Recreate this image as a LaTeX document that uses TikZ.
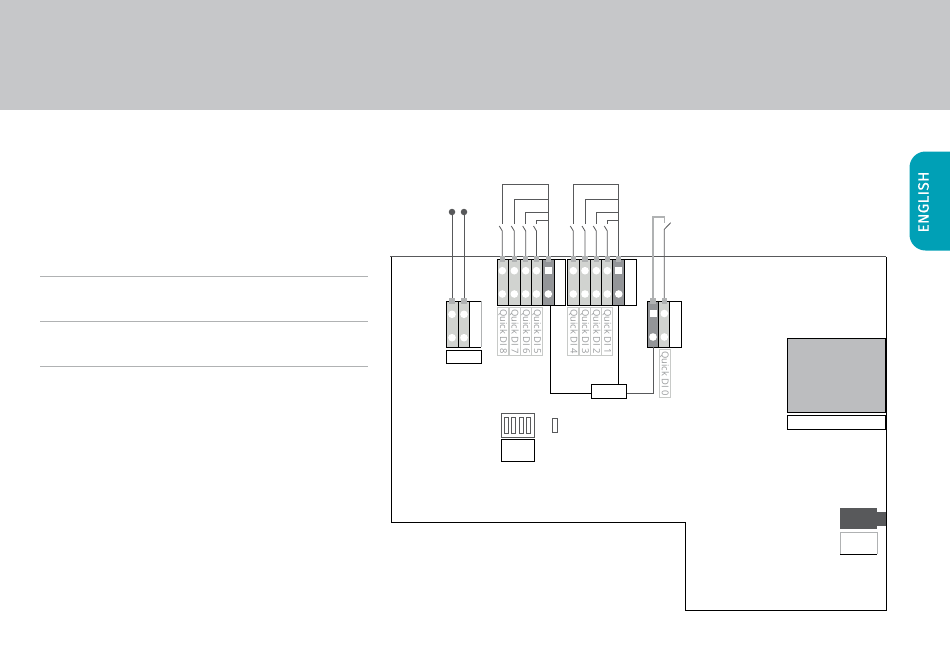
\documentclass[tikz,border=0pt]{standalone}
\usepackage{fontspec}
\setmainfont{Open Sans}
\newfontfamily\tabfont[FakeBold=0.6,LetterSpace=3]{Fira Sans}
\definecolor{banner}{HTML}{C6C7C9}
\definecolor{tabc}{HTML}{00A0B6}
\definecolor{wirec}{HTML}{58595B}
\definecolor{modl}{HTML}{D1D3D0}
\definecolor{modd}{HTML}{939598}
\definecolor{capc}{HTML}{B0B2B3}
\definecolor{dispc}{HTML}{BCBDBF}
\definecolor{lblb}{HTML}{C8CAC8}
\definecolor{lblt}{HTML}{9A9C9E}
\tikzset{
  wire/.style={draw=wirec,line width=0.8pt},
  blk/.style={draw=black,line width=0.9pt},
  modlight/.style={draw=black,line width=0.9pt,fill=modl},
  moddark/.style={draw=black,line width=0.9pt,fill=modd},
  capn/.style={fill=capc,inner sep=0pt,minimum width=5.5pt,minimum height=6pt,shape=rectangle},
  dotw/.style={circle,fill=white,inner sep=0pt,minimum size=7.6pt},
  squarew/.style={rectangle,fill=white,inner sep=0pt,minimum size=7pt},
  lbl/.style={draw=lblb,line width=0.7pt,fill=white,inner sep=0pt,minimum width=11pt,minimum height=48pt},
  lbltxt/.style={font=\fontsize{9.4}{10}\selectfont,text=lblt,rotate=-90,inner sep=0pt},
  rule/.style={draw=capc,line width=0.8pt}
}
\begin{document}
\begin{tikzpicture}[x=1pt,y=-1pt]
\useasboundingbox (0,0) rectangle (950,670);
\fill[white] (0,0) rectangle (950,670);
\fill[banner] (0,0) rectangle (950,110);
% tab
\fill[tabc,rounded corners=16pt] (970,151.5) -- (909.5,151.5) -- (909.5,250.5) -- (970,250.5) -- cycle;
\node[rotate=90,text=white,font=\tabfont\fontsize{15}{16}\selectfont,inner sep=0pt] (tab) at (923.5,202) {ENGLISH};
% rules
\draw[rule] (40,276.7) -- (368,276.7);
\draw[rule] (40,321) -- (368,321);
\draw[rule] (40,366) -- (368,366);
% outline
\draw[blk] (391,256.5) -- (391,522) -- (685,522) -- (685,610) -- (886,610) -- (886,256.5);
\draw[draw=wirec,line width=1pt] (390,256.5) -- (886,256.5);
% left pair
\node[circle,fill=wirec,inner sep=0pt,minimum size=6.5pt] (da) at (452,212) {};
\node[circle,fill=wirec,inner sep=0pt,minimum size=6.5pt] (db) at (464,212) {};
\draw[modlight] (446,301) rectangle (458.3,347);
\draw[modlight] (458.3,301) rectangle (469.5,347);
\draw[blk] (469.5,301) -- (481,301);
\draw[blk] (469.5,347) -- (481,347);
\draw[draw=capc,line width=0.9pt] (481,301) -- (481,347);
\node[capn] (ca) at (452,301) {};
\node[capn] (cb) at (464,301) {};
\draw[wire] (da) -- (ca);
\draw[wire] (db) -- (cb);
\foreach \x in {452,464} \foreach \y in {314.3,337.7} \node[dotw] at (\x,\y) {};
\draw[blk] (446,350) rectangle (481.5,363);
% group 1
\foreach \a/\b in {497.3/508.7,508.7/520.3,520.3/531.3,531.3/542.7} \draw[modlight] (\a,259.5) rectangle (\b,305.3);
\draw[moddark] (542.7,259.5) rectangle (554,305.3);
\draw[blk] (554,259.5) rectangle (565.7,305.3);
% group 2
\foreach \a/\b in {567.3/579.3,579.3/590.7,590.7/601.7,601.7/612.7} \draw[modlight] (\a,259.5) rectangle (\b,305.3);
\draw[moddark] (612.7,259.5) rectangle (624.3,305.3);
\draw[blk] (624.3,259.5) rectangle (636.3,305.3);
% wires and switches group 1
\foreach \x/\t in {502.3/184.3,514.3/199.3,525.7/212.3,536.5/220.3} {
  \draw[wire] (\x,\t) -- (\x,224);
  \draw[wire] (\x-3,226) -- (\x,231) -- (\x,258);
  \draw[wire] (\x,\t) -- (548.3,\t);
}
\draw[wire] (548.3,184.3) -- (548.3,258);
% wires and switches group 2
\foreach \x/\t in {573.3/184.3,585/199.3,596.3/212.3,607.3/220.3} {
  \draw[wire] (\x,\t) -- (\x,224);
  \draw[wire] (\x-3,226) -- (\x,231) -- (\x,258);
  \draw[wire] (\x,\t) -- (618.7,\t);
}
\draw[wire] (618.7,184.3) -- (618.7,258);
% caps and dots
\foreach \x in {502.3,514.3,525.7,536.5,548.3,573.3,585,596.3,607.3,618.7} \node[capn] at (\x,259) {};
\foreach \x in {502.3,514.3,525.7,536.5,573.3,585,596.3,607.3} {
  \node[dotw] at (\x,270.7) {};
  \node[dotw] at (\x,294) {};
}
\foreach \x in {548.3,618.7} {
  \node[squarew] at (\x,270.7) {};
  \node[dotw] at (\x,294) {};
}
% labels
\foreach \x/\t in {503/8,514.5/7,525.8/6,537/5,573.3/4,585/3,596.2/2,607.2/1} {
  \node[lbl] at (\x,331.7) {};
  \node[lbltxt] at (\x,331.7) {\addfontfeatures{LetterSpace=1}Quick DI \t};
}
% DI0
\draw[moddark] (647.7,301) rectangle (658.7,347.3);
\draw[modlight] (658.7,301) rectangle (669.7,347.3);
\draw[blk] (669.7,301) rectangle (681.3,347.3);
\node[capn] (c0a) at (653,301) {};
\node[capn] (c0b) at (664.3,301) {};
\draw[draw=capc,line width=1.2pt] (c0a) -- (653,217) -- (664.3,217) -- (664.3,222.7);
\draw[wire] (670.7,222.7) -- (664.3,229.3) -- (c0b);
\node[squarew] at (653,313.5) {};
\node[dotw] at (653,337) {};
\node[dotw] at (664.3,313.5) {};
\node[dotw] at (664.3,337) {};
\node[lbl] at (664.7,373.7) {};
\node[lbltxt] at (664.7,373.7) {\addfontfeatures{LetterSpace=1}Quick DI 0};
% common box
\node[draw=black,line width=0.9pt,fill=white,minimum width=35pt,minimum height=14pt,inner sep=0pt] (com) at (608.8,391.3) {};
\draw[blk] (550.3,305.3) -- (550.3,393.3) -- (com.west |- 0,393.3);
\draw[blk] (618.3,305.3) -- (618.3,384.3);
\draw[wire,line width=1pt] (com.east |- 0,393.3) -- (653,393.3) -- (653,347.3);
% DIP
\draw[draw=wirec,line width=0.9pt] (501.3,413.7) rectangle (534.3,437);
\foreach \a/\b in {504.3/508.3,511.3/515.7,519/523.3,526.3/530.7} \draw[draw=wirec,line width=0.9pt] (\a,417.3) rectangle (\b,433.3);
\draw[draw=wirec,line width=0.9pt] (552.3,418.3) rectangle (557.7,432.3);
\draw[blk] (501.3,439.7) rectangle (534.3,461.3);
% display
\draw[blk,fill=dispc] (787,338) rectangle (885,412);
\draw[blk] (787,415) rectangle (885.5,429);
% connector
\fill[wirec] (840.3,508) rectangle (877.3,529.3);
\fill[wirec] (877.3,511.7) rectangle (886,526);
\draw[draw=capc,line width=0.8pt] (840.3,554.3) -- (840.3,532.3) -- (877.3,532.3) -- (877.3,554.3);
\draw[blk] (840.3,554.3) -- (877.3,554.3);
\end{tikzpicture}
\end{document}
